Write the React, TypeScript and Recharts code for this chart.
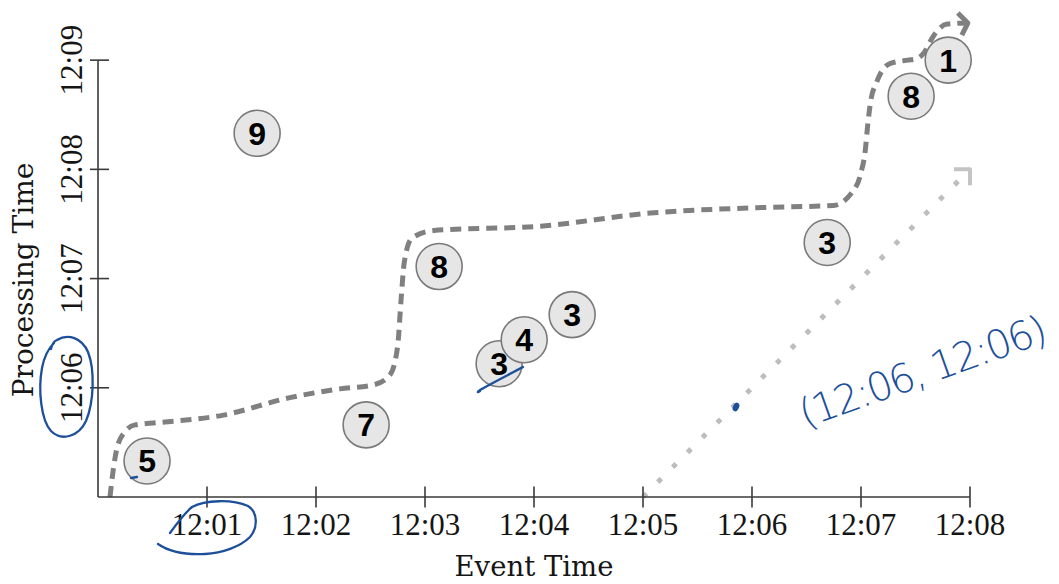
import React from "react";
import {
  ComposedChart,
  Label,
  Line,
  ReferenceLine,
  Scatter,
  XAxis,
  YAxis,
} from "recharts";

// all times are minutes after 12:00
const eventTicks = [1, 2, 3, 4, 5, 6, 7, 8];
const procTicks = [6, 7, 8, 9];

const pointLabels = ["5", "9", "7", "8", "3", "4", "3", "3", "8", "1"];
const pointEvent = [0.45, 1.46, 2.46, 3.13, 3.68, 3.91, 4.35, 6.69, 7.46, 7.8];
const pointProc = [5.33, 8.33, 5.66, 7.11, 6.22, 6.44, 6.67, 7.33, 8.67, 9.0];

// heuristic watermark (dashed)
const watermarkEvent = [
  0.11, 0.14, 0.17, 0.24, 0.34, 0.54, 1.15, 1.76, 2.22, 2.54, 2.68, 2.75, 2.78,
  2.81, 2.88, 3.08, 4.06, 5.07, 6.08, 6.75, 6.91, 7.0, 7.04, 7.06, 7.09, 7.14,
  7.18, 7.27, 7.43, 7.5, 7.58, 7.64, 7.7, 7.79, 7.98,
];
const watermarkProc = [
  5.0, 5.25, 5.43, 5.59, 5.66, 5.68, 5.75, 5.91, 5.99, 6.03, 6.12, 6.39, 6.8,
  7.15, 7.37, 7.44, 7.48, 7.6, 7.65, 7.67, 7.78, 7.97, 8.18, 8.39, 8.63, 8.79,
  8.88, 8.97, 9.0, 9.01, 9.07, 9.18, 9.27, 9.33, 9.34,
];

// ideal line (dotted)
const idealEvent = [5, 8];
const idealProc = [5, 8];

const points = pointLabels.map((label, i) => ({
  x: pointEvent[i],
  y: pointProc[i],
  label,
}));
const watermark = watermarkEvent.map((x, i) => ({ x, y: watermarkProc[i] }));
const ideal = idealEvent.map((x, i) => ({ x, y: idealProc[i] }));

const axisColor = "#3a3a3a";
const textColor = "#151515";
const ink = "#1d4f9a";

const fmt = (m: number) => `12:${String(m).padStart(2, "0")}`;

function EventTick({ x, y, payload }: any) {
  return (
    <g>
      <line x1={x} x2={x} y1={y - 10.5} y2={y + 10.5} stroke={axisColor} strokeWidth={1.6} />
      <text
        x={x}
        y={y + 38}
        textAnchor="middle"
        fontFamily="'Liberation Serif', serif"
        fontSize={31}
        fill={textColor}
      >
        {fmt(payload.value)}
      </text>
    </g>
  );
}

function ProcTick({ x, y, payload }: any) {
  const tx = x - 16;
  return (
    <g>
      <line x1={x - 8} x2={x + 11} y1={y} y2={y} stroke={axisColor} strokeWidth={1.6} />
      <text
        x={tx}
        y={y}
        transform={`rotate(-90 ${tx} ${y})`}
        textAnchor="middle"
        fontFamily="'Liberation Serif', serif"
        fontSize={31}
        fill={textColor}
      >
        {fmt(payload.value)}
      </text>
    </g>
  );
}

function EventTitle({ viewBox }: any) {
  return (
    <text
      x={viewBox.x + viewBox.width / 2}
      y={viewBox.y + 79}
      textAnchor="middle"
      fontFamily="'DejaVu Serif', serif"
      fontSize={27.5}
      fill={textColor}
    >
      Event Time
    </text>
  );
}

function ProcTitle({ viewBox }: any) {
  const tx = viewBox.x - 5;
  const ty = viewBox.y + 269;
  return (
    <text
      x={tx}
      y={ty}
      transform={`rotate(-90 ${tx} ${ty})`}
      textAnchor="middle"
      fontFamily="'DejaVu Serif', serif"
      fontSize={28}
      fill={textColor}
    >
      Processing Time
    </text>
  );
}

function Bubble({ cx, cy, payload }: any) {
  return (
    <g>
      <circle cx={cx} cy={cy} r={23} fill="#e6e6e6" stroke="#7a7a7a" strokeWidth={1.6} />
      <text
        x={cx}
        y={cy + 11.5}
        textAnchor="middle"
        fontFamily="'Liberation Sans', sans-serif"
        fontWeight="bold"
        fontSize={32}
        fill="#000"
      >
        {payload.label}
      </text>
    </g>
  );
}

const lastWm = watermark.length - 1;
const lastIdeal = ideal.length - 1;

function WatermarkHead({ cx, cy, index }: any) {
  if (index !== lastWm) return <g key={index} />;
  return (
    <polyline
      key={index}
      points={`${cx - 10},${cy - 10} ${cx},${cy} ${cx - 6},${cy + 12}`}
      fill="none"
      stroke="#808080"
      strokeWidth={5}
      strokeLinejoin="round"
    />
  );
}

function IdealHead({ cx, cy, index }: any) {
  if (index !== lastIdeal) return <g key={index} />;
  return (
    <polyline
      key={index}
      points={`${cx - 16},${cy} ${cx},${cy} ${cx},${cy + 16}`}
      fill="none"
      stroke="#c4c4c4"
      strokeWidth={4}
      strokeLinejoin="round"
    />
  );
}

export default function App() {
  return (
    <div style={{ position: "absolute", left: 0, top: 0, width: 1059, height: 584, background: "#fff" }}>
      <ComposedChart
        width={1059}
        height={584}
        margin={{ top: 11, right: 89, bottom: 0, left: 38 }}
      >
        <XAxis
          type="number"
          dataKey="x"
          domain={[0, 8]}
          ticks={eventTicks}
          interval={0}
          height={87}
          tickSize={0}
          tickMargin={0}
          tickLine={false}
          axisLine={{ stroke: axisColor, strokeWidth: 1.6 }}
          tick={<EventTick />}
        >
          <Label content={<EventTitle />} />
        </XAxis>
        <YAxis
          type="number"
          dataKey="y"
          domain={[5, 9.45]}
          ticks={procTicks}
          interval={0}
          width={60}
          tickSize={0}
          tickMargin={0}
          tickLine={false}
          axisLine={false}
          tick={<ProcTick />}
        >
          <Label content={<ProcTitle />} />
        </YAxis>
        <ReferenceLine
          segment={[
            { x: 0, y: 5 },
            { x: 0, y: 9 },
          ]}
          stroke={axisColor}
          strokeWidth={1.6}
        />
        <Line
          data={ideal}
          dataKey="y"
          type="linear"
          stroke="#bdbdbd"
          strokeWidth={5}
          strokeDasharray="5 16"
          dot={IdealHead}
          activeDot={false}
          isAnimationActive={false}
        />
        <Line
          data={watermark}
          dataKey="y"
          type="monotoneX"
          stroke="#808080"
          strokeWidth={5}
          strokeDasharray="11 7"
          dot={WatermarkHead}
          activeDot={false}
          isAnimationActive={false}
        />
        <Scatter data={points} shape={<Bubble />} isAnimationActive={false} />
      </ComposedChart>
      <svg
        width={1059}
        height={584}
        style={{ position: "absolute", left: 0, top: 0, pointerEvents: "none" }}
      >
        <g fill="none" stroke={ink} strokeWidth={2.3} strokeLinecap="round" strokeLinejoin="round">
          <path d="M51,349 C52,344 54,341 57,340 C68,333 82,338 88,352 C95,370 94,402 86,421 C79,436 62,442 51,431 C41,420 38,390 42,368 C44,357 48,349 54,343" />
          <path d="M170,533 C178,522 186,512 192,507 C205,500 232,499 248,506 C258,512 258,528 250,537 C240,547 222,553 205,554 C185,555 168,551 158,544" />
          <path d="M523,367 C510,374 492,383 480,390 C477,392 477,393 480,391" />
          <path d="M131,478 L137,477" />
        </g>
        <ellipse cx={736} cy={407} rx={3} ry={4.5} fill={ink} transform="rotate(25 736 407)" />
        <text
          x={805}
          y={428}
          transform="rotate(-19.6 805 428)"
          fontFamily="'DejaVu Sans', sans-serif"
          fontWeight={200}
          fontSize={40}
          fill={ink}
          textLength={260}
          lengthAdjust="spacing"
        >
          (12:06, 12:06)
        </text>
      </svg>
    </div>
  );
}
